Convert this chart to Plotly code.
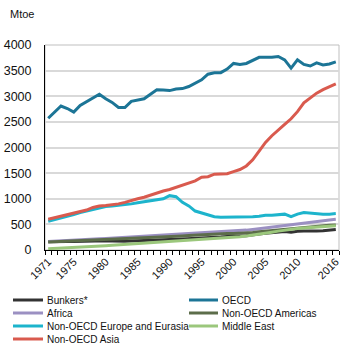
import plotly.graph_objects as go

years = list(range(1971, 2017))
tick_years = [1971, 1975, 1980, 1985, 1990, 1995, 2000, 2005, 2010, 2016]

bunkers = [160, 165, 170, 168, 165, 170, 175, 180, 185, 180, 175, 170, 170, 175, 178, 185, 190, 195, 200, 205,
           210, 215, 220, 225, 232, 240, 250, 255, 265, 275, 275, 280, 290, 310, 325, 340, 355, 360, 345, 365,
           370, 365, 370, 375, 390, 402]
oecd = [2570, 2700, 2810, 2760, 2690, 2820, 2890, 2960, 3040, 2950, 2880, 2780, 2780, 2900, 2930, 2950, 3040, 3125,
        3120, 3110, 3140, 3150, 3190, 3250, 3320, 3430, 3460, 3460, 3530, 3640, 3620, 3640, 3700, 3760, 3760, 3760,
        3776, 3710, 3550, 3710, 3620, 3590, 3650, 3610, 3630, 3670]
africa = [165, 170, 176, 183, 190, 197, 204, 211, 218, 225, 232, 240, 247, 255, 262, 270, 277, 285, 292, 300,
          306, 312, 318, 325, 332, 339, 346, 352, 358, 365, 375, 388, 402, 418, 434, 450, 468, 485, 498, 515,
          530, 545, 560, 572, 585, 598]
americas = [155, 160, 165, 170, 175, 180, 186, 192, 198, 205, 208, 212, 218, 225, 235, 242, 248, 254, 258, 262,
            268, 275, 282, 290, 297, 304, 312, 318, 320, 323, 326, 332, 342, 355, 367, 380, 395, 410, 420, 435,
            448, 460, 470, 478, 485, 490]
europe_eurasia = [560, 590, 620, 650, 690, 730, 760, 800, 830, 850, 860, 870, 880, 900, 920, 940, 960, 990, 1000,
                  1060, 1040, 930, 860, 760, 720, 680, 650, 640, 640, 650, 650, 650, 650, 660, 680, 680, 690, 700,
                  650, 700, 730, 720, 700, 700, 700, 710]
middle_east = [25, 30, 35, 40, 47, 54, 62, 70, 77, 85, 92, 100, 110, 120, 130, 138, 146, 155, 163, 170,
               175, 185, 195, 205, 213, 220, 228, 236, 244, 252, 260, 275, 290, 310, 328, 348, 368, 390, 405, 420,
               430, 440, 450, 458, 465, 472]
asia = [600, 630, 660, 680, 710, 740, 780, 830, 860, 870, 880, 900, 930, 970, 1000, 1030, 1070, 1120, 1150, 1180,
        1220, 1260, 1310, 1350, 1420, 1430, 1480, 1490, 1490, 1530, 1570, 1640, 1760, 1930, 2100, 2230, 2350, 2450,
        2560, 2700, 2870, 2970, 3060, 3130, 3190, 3240]

series = [
    ("Bunkers*", bunkers, "#333333"),
    ("OECD", oecd, "#1c7596"),
    ("Africa", africa, "#9b90c2"),
    ("Non-OECD Americas", americas, "#5c6d4a"),
    ("Non-OECD Europe and Eurasia", europe_eurasia, "#1db4cc"),
    ("Middle East", middle_east, "#9bc77c"),
    ("Non-OECD Asia", asia, "#d95a4e"),
]

W, H = 350, 348
ML, MR, MT, MB = 45, 11, 45, 98
PW, PH = W - ML - MR, H - MT - MB


def px_x(p):
    return (p - ML) / PW


def px_y(p):
    return (H - MB - p) / PH


fig = go.Figure()
for name, vals, color in series:
    fig.add_trace(go.Scatter(x=years, y=vals, name=name, mode="lines",
                             line=dict(color=color, width=3), showlegend=False))

# manual two-column legend (compact rows like the reference)
shapes = [dict(type="rect", xref="paper", yref="paper", x0=0, x1=1, y0=0, y1=1,
               line=dict(color="#bfbfbf", width=1), layer="below")]
annotations = [dict(text="Mtoe", xref="paper", yref="paper", x=px_x(8), y=px_y(14),
                    xanchor="left", yanchor="middle", showarrow=False,
                    font=dict(size=11, color="#111111"))]
row_y = [300, 313, 326, 339]
col_x = [(13, 43, 45), (189, 218, 220)]
for i, (name, vals, color) in enumerate(series):
    r, c = divmod(i, 2)
    x0, x1, xt = col_x[c]
    yy = px_y(row_y[r])
    shapes.append(dict(type="line", xref="paper", yref="paper", x0=px_x(x0), x1=px_x(x1),
                       y0=yy, y1=yy, line=dict(color=color, width=3)))
    annotations.append(dict(text=name, xref="paper", yref="paper", x=px_x(xt), y=yy,
                            xanchor="left", yanchor="middle", showarrow=False,
                            font=dict(size=10, color="#111111")))

fig.update_layout(
    width=W, height=H,
    margin=dict(l=ML, r=MR, t=MT, b=MB, autoexpand=False),
    paper_bgcolor="white", plot_bgcolor="white",
    font=dict(family="Liberation Sans, Arial, sans-serif", color="#111111"),
    showlegend=False,
    shapes=shapes,
    annotations=annotations,
)
fig.update_xaxes(range=[1970.5, 2016.5], tickmode="array", tickvals=tick_years,
                 ticktext=[str(y) for y in tick_years], tickangle=-45, ticks="",
                 tickfont=dict(size=11), showgrid=False, zeroline=False,
                 showline=True, linecolor="#000000", linewidth=1,
                 minor=dict(tickmode="array", tickvals=[y - 0.5 for y in years] + [2016.5],
                            ticks="outside", ticklen=4, tickcolor="#000000", showgrid=False))
fig.update_yaxes(range=[0, 4000], dtick=500, tickfont=dict(size=12.5),
                 showgrid=True, gridcolor="#d9d9d9", gridwidth=1.5, zeroline=False,
                 showline=True, linecolor="#000000", linewidth=1, ticks="",
                 ticklabelstandoff=10)

fig.write_html("out.html")
